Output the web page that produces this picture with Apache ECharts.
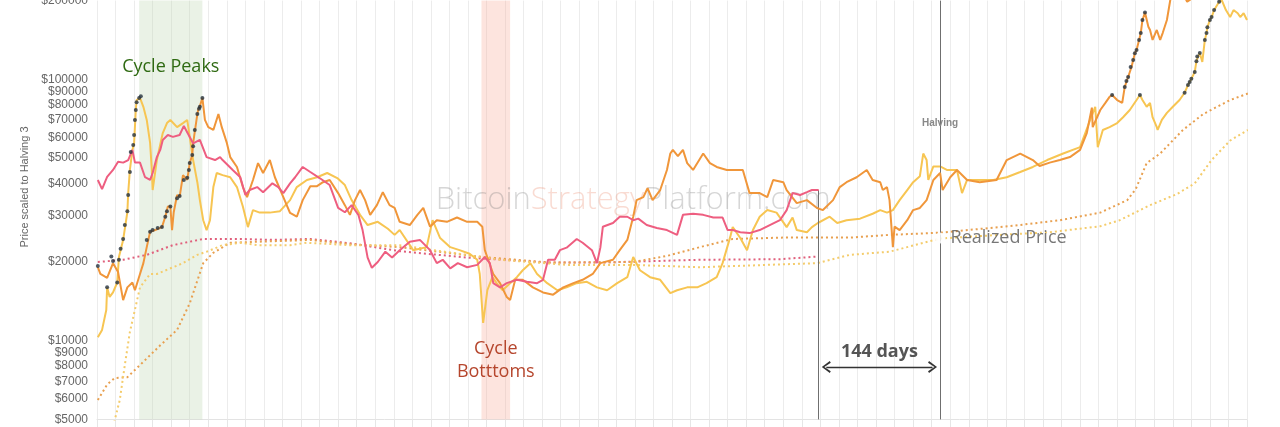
<!DOCTYPE html>
<html><head><meta charset="utf-8">
<script src="https://cdn.jsdelivr.net/npm/echarts@6/dist/echarts.min.js"></script>
<style>html,body{margin:0;padding:0;background:#fff}#c{width:1280px;height:427px}</style>
</head><body><div id="c"></div>
<script>
// x = days in cycle window (halving at day 1000), y = price scaled to Halving 3 (USD)
const yTickValues = [5000,6000,7000,8000,9000,10000,20000,30000,40000,50000,60000,70000,80000,90000,100000,200000];
const halvingDay = 1000;
const countdownDay = 856;          // 144 days before halving
const arrowSpan = [865, 991];
const arrowLevel = 7930;
const peakBand = [50, 125];
const bottomBand = [456, 490];
const realizedAtHalving = 24700;

const pinkCycle = [[1,41200],[6,38000],[12,42300],[19,45000],[25,48400],[31,48000],[37,49100],[42,53700],[45,48000],[51,48000],[57,42200],[63,41200],[66,43800],[71,50400],[75,53700],[78,58600],[84,61200],[90,60200],[98,61200],[103,66300],[110,60200],[114,56900],[122,58600],[130,50400],[140,49100],[146,50400],[149,49100],[161,45000],[170,42200],[176,36100],[181,37700],[190,38700],[197,37000],[208,40000],[215,38700],[221,36700],[229,40000],[235,42200],[244,46200],[253,44200],[264,41900],[276,39400],[286,32200],[294,31000],[302,33000],[310,30300],[315,26500],[321,20800],[326,19000],[333,20000],[342,21900],[350,20800],[359,22200],[371,23900],[383,24300],[395,22200],[403,19800],[410,20400],[419,18900],[428,19800],[439,19100],[451,19500],[460,20900],[466,19800],[470,16600],[478,16000],[486,16600],[498,17100],[510,16800],[522,16600],[529,17100],[535,20400],[543,20400],[549,22200],[557,22700],[569,24500],[576,23700],[587,22200],[593,19800],[597,22700],[600,27300],[612,28200],[620,29800],[629,29800],[636,28900],[642,29300],[652,27700],[664,27000],[676,26500],[688,25400],[695,30300],[707,30600],[719,30300],[731,29600],[742,29600],[748,26500],[754,26500],[763,26000],[774,25800],[786,26500],[798,27700],[810,28900],[818,31600],[825,36700],[834,36100],[842,37000],[848,37700],[856,37700]];

const orangeCycle = [[1,19100],[4,18000],[12,17400],[19,19800],[25,18300],[31,14300],[36,16000],[42,16700],[45,15600],[51,18000],[55,19800],[59,22800],[63,26100],[69,26500],[77,27200],[81,29800],[84,32600],[87,32600],[89,26500],[91,31000],[95,36100],[98,35500],[102,43000],[107,41200],[110,47800],[113,51300],[114,56900],[119,73600],[120,76300],[122,78900],[125,84900],[128,69900],[132,65600],[138,64000],[144,73600],[148,65600],[154,57100],[158,50400],[166,46200],[173,38700],[178,35400],[185,41200],[191,47800],[197,43800],[205,49100],[211,42200],[221,35400],[229,30800],[237,29800],[244,34500],[253,39000],[261,39000],[268,40400],[276,41200],[286,36700],[294,33000],[300,30300],[306,34500],[312,37700],[318,34500],[324,30300],[332,33000],[339,37000],[347,33000],[353,32200],[359,28500],[371,27700],[380,30300],[387,32200],[395,27300],[403,28900],[415,28500],[427,29600],[439,28500],[451,28500],[457,27300],[460,22200],[464,20400],[470,18000],[478,16600],[486,14700],[490,14300],[496,17100],[505,17100],[517,16000],[529,15300],[541,15000],[553,16000],[565,16600],[576,17100],[588,18000],[597,19800],[612,20400],[620,22200],[629,24300],[636,29800],[640,34500],[648,35400],[653,38300],[659,34500],[668,37700],[676,45000],[680,52000],[683,53700],[689,50800],[695,53700],[700,47800],[707,45000],[719,52000],[727,47800],[735,46200],[747,45000],[754,45000],[766,45000],[774,36700],[786,36700],[795,35400],[802,41200],[814,40400],[818,37700],[830,33600],[842,34500],[854,32200],[861,31600],[873,34500],[881,38700],[889,40400],[901,42200],[913,45000],[920,41200],[929,40400],[932,37700],[937,38700],[940,34500],[944,22800],[946,27300],[952,26500],[961,28900],[968,31600],[976,32200],[984,34500],[992,41200],[1000,43800],[1003,37700],[1012,42200],[1020,45000],[1032,41200],[1047,40400],[1067,41200],[1079,49100],[1095,52000],[1110,49100],[1118,46600],[1130,48000],[1142,49100],[1154,50400],[1166,53700],[1174,62300],[1180,77900],[1181,65600],[1190,76300],[1196,81200],[1201,85700],[1204,87100],[1210,83300],[1216,81200],[1219,93500],[1223,102000],[1227,111400],[1231,125800],[1233,129500],[1236,141400],[1238,150300],[1240,168600],[1243,180000],[1247,158800],[1249,154400],[1252,141400],[1257,154400],[1261,141400],[1264,150300],[1269,168600],[1273,201100],[1278,230000],[1286,220000],[1293,198000],[1300,205000]];

const yellowCycle = [[1,10300],[6,11000],[11,13100],[12,16000],[15,14700],[19,15300],[24,16700],[26,20900],[31,24300],[36,31000],[37,36700],[39,45000],[42,53700],[44,56900],[46,76300],[47,83300],[51,84900],[53,85700],[55,78500],[59,69900],[63,57100],[65,45000],[66,37700],[71,49100],[78,62300],[83,68000],[87,69900],[95,65600],[102,68000],[107,69900],[110,60200],[114,49100],[119,40400],[122,34500],[126,28900],[130,26500],[134,28900],[138,38700],[142,43800],[149,43000],[158,42200],[166,38700],[173,32600],[179,27200],[185,31600],[193,30900],[205,30900],[217,31300],[229,34500],[237,38700],[249,41200],[261,42200],[273,43800],[285,41900],[294,39400],[302,34500],[312,30300],[321,27700],[333,28500],[345,26800],[353,25400],[359,26500],[375,22200],[391,22800],[398,28900],[407,24700],[419,22800],[430,22200],[442,21500],[451,20400],[454,18000],[458,11700],[463,15600],[469,17500],[474,16600],[481,15600],[490,16600],[498,17500],[505,18600],[514,19800],[522,18000],[534,16600],[546,15600],[557,16000],[569,16600],[581,16800],[593,16000],[605,15600],[617,16600],[629,17500],[636,20900],[644,18600],[656,17500],[668,17100],[680,15200],[688,15600],[700,16000],[712,16000],[723,16600],[735,17500],[742,19800],[751,24900],[754,27200],[763,24700],[771,22200],[778,26500],[786,29800],[795,31600],[806,30900],[818,27200],[825,29600],[830,26500],[842,26000],[848,27200],[855,28200],[869,29800],[878,28200],[889,28900],[905,29300],[920,30600],[929,31600],[937,30900],[944,31600],[952,34500],[961,37700],[968,40400],[976,42600],[980,52000],[984,49100],[986,41200],[992,46400],[1000,46400],[1008,45000],[1020,45000],[1026,36700],[1032,41200],[1047,41200],[1063,41200],[1079,42200],[1095,44200],[1110,46200],[1127,49100],[1146,52000],[1166,55000],[1178,69900],[1184,78500],[1187,55000],[1193,64000],[1201,65600],[1210,68000],[1217,71600],[1225,76300],[1233,83300],[1237,87100],[1240,83300],[1245,78500],[1249,81200],[1252,71600],[1257,65600],[1258,64000],[1263,69900],[1269,74400],[1276,78500],[1284,83300],[1290,88800],[1294,95100],[1296,97600],[1298,100400],[1302,106600],[1304,117100],[1306,122100],[1308,126000],[1311,116500],[1314,141400],[1316,150300],[1317,158000],[1320,168600],[1322,173000],[1325,184000],[1331,198000],[1334,201000],[1339,184000],[1344,173000],[1348,184000],[1353,179000],[1356,173000],[1360,179000],[1364,168600]];

const pinkRealized = [[1,20000],[31,20400],[59,21300],[90,23200],[126,24500],[170,24500],[209,24300],[253,24500],[300,23600],[359,22000],[439,20800],[537,19900],[597,19900],[715,20400],[810,20500],[856,21000]];
const orangeRealized = [[1,5930],[12,6800],[21,7200],[36,7250],[51,8070],[75,9600],[95,11000],[110,13900],[126,19800],[138,21700],[158,23700],[190,23900],[253,24300],[300,23400],[359,22800],[458,20900],[537,19900],[636,20000],[676,21100],[715,22800],[754,24500],[814,24800],[893,24800],[940,25400],[1000,25900],[1086,27500],[1142,28900],[1190,30900],[1222,34500],[1232,38000],[1245,47800],[1261,52000],[1288,64000],[1312,73600],[1344,83300],[1365,88200]];
const yellowRealized = [[19,4680],[27,5930],[33,8070],[39,10800],[51,16000],[63,18000],[71,18000],[102,19800],[119,21300],[130,21900],[149,23200],[170,23700],[190,23200],[229,23200],[249,23700],[300,23200],[359,23200],[478,20400],[557,19500],[636,19500],[715,19100],[795,19500],[854,19800],[893,21300],[940,21900],[1000,24600],[1071,25400],[1130,26000],[1190,27400],[1213,28900],[1249,33000],[1281,36400],[1302,40000],[1322,49100],[1344,58300],[1365,64000]];

const orangeRunDots = [[1,19300],[17,21000],[19,20200],[59,24300],[63,26100],[66,26500],[72,27000],[77,27200],[81,29800],[83,31300],[87,32600],[95,35100],[98,35800],[103,41200],[107,42000],[109,45000],[110,47800],[113,51300],[114,55500],[116,64000],[119,73600],[121,77100],[122,78500],[125,84900],[1204,87100],[1219,93500],[1221,98600],[1223,102000],[1226,111400],[1229,118500],[1231,125800],[1233,129500],[1236,141400],[1238,150300],[1240,168600],[1243,180000]];
const yellowRunDots = [[12,16000],[24,16700],[26,20400],[28,22500],[31,24500],[33,27700],[36,31300],[37,36100],[39,44200],[40,52700],[43,56100],[44,61200],[45,69900],[46,76300],[47,81700],[50,84900],[52,86200],[1237,87100],[1290,88800],[1294,95100],[1296,97600],[1298,100400],[1302,106600],[1304,117100],[1305,122100],[1308,126000],[1314,141400],[1316,150300],[1317,158000],[1320,168600],[1322,173000],[1325,184000],[1331,198000]];

const chart = echarts.init(document.getElementById('c'), null, {renderer:'canvas'});
const annFont = "'Open Sans', 'Noto Sans', sans-serif";
const chevron = 'path://M5,0 L10,8 L8.6,9 L5,2.6 L1.4,9 L0,8 Z';

function priceLine(name, data, color, z) {
  return {name, type:'line', data, showSymbol:false, symbol:'none', z,
    lineStyle:{color, width:2}, clip:true, animation:false};
}
function realizedLine(name, data, color) {
  return {name, type:'line', data, showSymbol:false, symbol:'none', z:3,
    lineStyle:{color, width:2, type:[2,3]}, clip:true, animation:false};
}

const option = {
  animation:false,
  backgroundColor:'#fff',
  grid:{left:97, right:33, top:0.6, bottom:7.6, outerBoundsMode:'none', containLabel:false},
  xAxis:{type:'value', min:0, max:1364, interval:22,
    axisLabel:{show:false},
    axisLine:{show:true, lineStyle:{color:'#e3e3e3'}},
    axisTick:{show:true, length:8, lineStyle:{color:'#e6e6e6'}},
    splitLine:{show:true, lineStyle:{color:'#ececec', width:1}}},
  yAxis:{type:'log', logBase:10, min:5000, max:200000,
    axisLine:{show:false}, axisTick:{show:false}, splitLine:{show:false},
    axisLabel:{customValues:yTickValues, formatter:v=>'$'+Math.round(v), color:'#666', fontSize:12,
      fontFamily:"'Liberation Sans', Arial, sans-serif", margin:9}},
  series:[
    {type:'line', data:[], z:1, markArea:{silent:true, data:[
      [{xAxis:peakBand[0], itemStyle:{color:'rgba(190,215,180,0.33)'},
        label:{show:true, position:'insideTop', distance:57, formatter:'Cycle Peaks', color:'#2f6a12', fontSize:18, fontFamily:annFont}},
       {xAxis:peakBand[1]}],
      [{xAxis:bottomBand[0], itemStyle:{color:'rgba(250,165,145,0.3)'},
        label:{show:true, position:'insideBottom', distance:36, formatter:'Cycle\nBotttoms', color:'#b5452c', fontSize:18, lineHeight:23, fontFamily:annFont, align:'center'}},
       {xAxis:bottomBand[1]}]
    ]}},
    realizedLine('Realized (pink cycle)', pinkRealized, '#e0607c'),
    realizedLine('Realized (orange cycle)', orangeRealized, '#e8a050'),
    realizedLine('Realized (yellow cycle)', yellowRealized, '#f4cc6c'),
    priceLine('Yellow cycle', yellowCycle, '#f7c552', 4),
    priceLine('Orange cycle', orangeCycle, '#f0963a', 5),
    priceLine('Pink cycle', pinkCycle, '#ee5e80', 6),
    {type:'scatter', data:orangeRunDots.concat(yellowRunDots), symbolSize:4, z:7, itemStyle:{color:'#26323f'}, clip:true},
    {type:'line', data:[], z:8, markLine:{silent:true, symbol:['none','none'], animation:false,
      lineStyle:{color:'#6f6f6f', width:1, type:'solid'}, label:{show:false},
      data:[
        [{coord:[countdownDay, 5000]}, {coord:[countdownDay, pinkCycle[pinkCycle.length-1][1]]}],
        {xAxis:halvingDay}
      ]}},
    {type:'line', data:[], z:8, markLine:{silent:true, symbol:[chevron, chevron], symbolSize:[12,9], animation:false,
      lineStyle:{color:'#333', width:1.3, type:'solid'},
      label:{show:true, position:'middle', formatter:'144 days', color:'#555', fontSize:18, fontWeight:'bold', fontFamily:annFont, distance:6},
      data:[[{coord:[arrowSpan[0], arrowLevel]}, {coord:[arrowSpan[1], arrowLevel]}]]}},
    {type:'scatter', data:[[halvingDay, realizedAtHalving]], symbol:'emptyCircle', symbolSize:9, z:9,
      itemStyle:{color:'#fff', borderColor:'#777', borderWidth:1.5},
      label:{show:true, position:'right', distance:5, formatter:'Realized Price', color:'#555', fontSize:18, fontFamily:annFont}}
  ]
};
chart.setOption(option);

const hp = chart.convertToPixel({gridIndex:0}, [halvingDay, 67700]);
const wm = chart.convertToPixel({gridIndex:0}, [636, 34500]);
chart.setOption({graphic:[
  {type:'text', x:25, y:187, rotation:Math.PI/2, z:10, style:{text:'Price scaled to Halving 3', fill:'#666', font:"11px 'Liberation Sans', Arial, sans-serif", textAlign:'center', textVerticalAlign:'middle'}},
  {type:'text', x:hp[0], y:hp[1], z:10, style:{text:'Halving', fill:'#888', font:"bold 10px 'Liberation Sans', Arial, sans-serif", textAlign:'center', textVerticalAlign:'middle'}},
  {type:'text', x:wm[0], y:wm[1], z:2, style:{
    text:'{a|Bitcoin}{b|Strategy}{a|Platform.com}', textAlign:'center', textVerticalAlign:'middle',
    rich:{a:{fill:'rgba(120,120,120,0.3)', font:"300 31px 'Open Sans', sans-serif"}, b:{fill:'rgba(235,125,95,0.28)', font:"300 31px 'Open Sans', sans-serif"}}}}
]});
</script>
</body></html>
